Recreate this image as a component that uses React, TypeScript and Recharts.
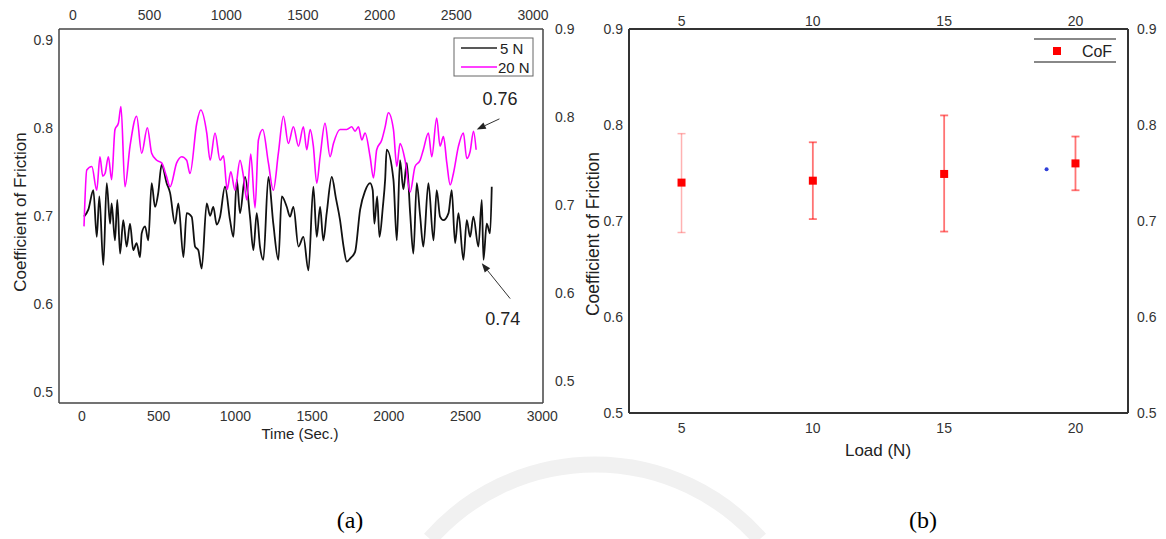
import React from "react";
import {
  LineChart,
  Line,
  XAxis,
  YAxis,
  ScatterChart,
  Scatter,
  ErrorBar,
  ReferenceLine,
  ReferenceDot,
} from "recharts";

// (a) coefficient of friction vs time
const time5N = [
  13, 41, 74, 96, 113, 139, 161, 183, 193, 215, 230, 248, 269, 291, 313, 334, 356, 378, 389, 411,
  432, 454, 476, 497, 519, 552, 574, 606, 628, 661, 682, 715, 737, 758, 780, 813, 835, 856, 878, 900,
  932, 965, 987, 1009, 1030, 1063, 1095, 1117, 1139, 1160, 1182, 1215, 1247, 1280, 1302, 1335, 1356, 1378, 1411, 1443,
  1476, 1508, 1530, 1552, 1573, 1595, 1628, 1655, 1682, 1705, 1726, 1750, 1780, 1813, 1845, 1878, 1895, 1906, 1924, 1939,
  1961, 1976, 1986, 2030, 2052, 2073, 2095, 2117, 2139, 2160, 2182, 2204, 2225, 2258, 2291, 2312, 2334, 2356, 2389, 2410,
  2432, 2454, 2486, 2508, 2530, 2551, 2584, 2606, 2617, 2638, 2660, 2671,
];
const cof5N = [
  0.699, 0.707, 0.729, 0.676, 0.722, 0.644, 0.737, 0.691, 0.714, 0.672, 0.718, 0.657, 0.695, 0.665, 0.691, 0.661, 0.669, 0.653, 0.68, 0.688,
  0.672, 0.737, 0.71, 0.726, 0.758, 0.737, 0.726, 0.691, 0.714, 0.653, 0.703, 0.699, 0.665, 0.661, 0.64, 0.714, 0.7, 0.71, 0.69, 0.699,
  0.733, 0.695, 0.676, 0.741, 0.703, 0.744, 0.699, 0.661, 0.703, 0.665, 0.65, 0.744, 0.691, 0.65, 0.722, 0.71, 0.699, 0.71, 0.665, 0.676,
  0.638, 0.733, 0.676, 0.71, 0.672, 0.703, 0.744, 0.72, 0.695, 0.665, 0.648, 0.652, 0.659, 0.707, 0.728, 0.737, 0.729, 0.691, 0.722, 0.676,
  0.71, 0.741, 0.775, 0.741, 0.672, 0.763, 0.73, 0.76, 0.703, 0.657, 0.737, 0.7, 0.665, 0.737, 0.672, 0.729, 0.699, 0.695, 0.703, 0.729,
  0.669, 0.703, 0.65, 0.695, 0.676, 0.699, 0.665, 0.718, 0.65, 0.691, 0.68, 0.733,
];
const time20N = [
  13, 31, 64, 96, 117, 135, 150, 172, 193, 215, 237, 254, 280, 313, 356, 389, 426, 454, 487, 519,
  550, 574, 617, 650, 682, 704, 748, 774, 813, 835, 867, 900, 922, 946, 970, 997, 1030, 1052, 1074, 1100,
  1128, 1150, 1178, 1215, 1247, 1280, 1313, 1345, 1378, 1411, 1443, 1465, 1487, 1508, 1530, 1552, 1584, 1617, 1639, 1682,
  1726, 1758, 1780, 1802, 1824, 1845, 1878, 1900, 1921, 1954, 1975, 1997, 2030, 2052, 2073, 2106, 2139, 2171, 2204, 2225,
  2258, 2280, 2312, 2334, 2356, 2378, 2400, 2421, 2454, 2486, 2508, 2530, 2552, 2569,
];
const cof20N = [
  0.688, 0.752, 0.756, 0.729, 0.767, 0.745, 0.748, 0.767, 0.741, 0.798, 0.805, 0.824, 0.733, 0.779, 0.813, 0.771, 0.8, 0.771, 0.763, 0.76,
  0.745, 0.733, 0.76, 0.767, 0.763, 0.748, 0.805, 0.82, 0.794, 0.763, 0.794, 0.763, 0.768, 0.73, 0.75, 0.729, 0.763, 0.745, 0.718, 0.77,
  0.709, 0.786, 0.798, 0.76, 0.729, 0.771, 0.813, 0.782, 0.801, 0.779, 0.801, 0.775, 0.798, 0.779, 0.737, 0.767, 0.805, 0.767, 0.782, 0.798,
  0.798, 0.801, 0.796, 0.801, 0.786, 0.794, 0.767, 0.743, 0.775, 0.786, 0.8, 0.817, 0.798, 0.756, 0.782, 0.763, 0.727, 0.756, 0.763, 0.775,
  0.794, 0.767, 0.811, 0.779, 0.79, 0.76, 0.735, 0.748, 0.779, 0.794, 0.765, 0.773, 0.796, 0.775,
];
const timeTicks = [0, 500, 1000, 1500, 2000, 2500, 3000];
const cofTicks = [0.5, 0.6, 0.7, 0.8, 0.9];

// (b) mean coefficient of friction vs load
const loads = [5, 10, 15, 20];
const meanCof = [0.74, 0.742, 0.749, 0.76];
const lowCof = [0.688, 0.702, 0.689, 0.732];
const highCof = [0.791, 0.782, 0.81, 0.788];
const loadTicks = [5, 10, 15, 20];
const strayLoad = [18.9];
const strayCof = [0.754];

const font = "'Liberation Sans', Arial, sans-serif";
const tickStyle = { fill: "#333", fontSize: 14, fontFamily: font };
const frameA = { stroke: "#444", strokeWidth: 1.5 };
const frameB = { stroke: "#333", strokeWidth: 2 };

const line5N = time5N.map((t, i) => ({ t, v: cof5N[i] }));
const line20N = time20N.map((t, i) => ({ t, v: cof20N[i] }));
const points = loads.map((load, i) => ({
  load,
  cof: meanCof[i],
  err: [meanCof[i] - lowCof[i], highCof[i] - meanCof[i]],
}));
const stray = strayLoad.map((load, i) => ({ load, cof: strayCof[i] }));

const fmt1 = (v: number) => v.toFixed(1);

function Arrow(props: any) {
  const { x1, y1, x2, y2 } = props;
  const a = Math.atan2(y2 - y1, x2 - x1);
  const L = 9;
  const W = 3.5;
  const bx = x2 - L * Math.cos(a);
  const by = y2 - L * Math.sin(a);
  const px = -Math.sin(a) * W;
  const py = Math.cos(a) * W;
  return (
    <g>
      <line x1={x1} y1={y1} x2={bx} y2={by} stroke="#333" strokeWidth={1} />
      <polygon points={`${x2},${y2} ${bx + px},${by + py} ${bx - px},${by - py}`} fill="#222" />
    </g>
  );
}

const noteText = (label: string) => (p: any) => (
  <text x={p.cx} y={p.cy} textAnchor="middle" dominantBaseline="central" fontSize={18} fontFamily={font} fill="#222">
    {label}
  </text>
);

function TimePanel() {
  return (
    <LineChart width={600} height={460} margin={{ top: 0, right: 0, bottom: 0, left: 0 }}>
      <XAxis xAxisId="bottom" type="number" dataKey="t" domain={[-150, 3005]} ticks={timeTicks} allowDataOverflow
        orientation="bottom" height={57} tickLine={false} axisLine={frameA} tick={tickStyle} tickSize={6} tickMargin={2} />
      <XAxis xAxisId="top" type="number" dataKey="t" domain={[-90, 3065]} ticks={timeTicks} allowDataOverflow
        orientation="top" height={29} tickLine={false} axisLine={frameA} tick={tickStyle} tickSize={6} tickMargin={3} />
      <YAxis yAxisId="left" type="number" domain={[0.4875, 0.912]} ticks={cofTicks} allowDataOverflow
        width={59} tickLine={false} axisLine={frameA} tick={tickStyle} tickSize={4} tickMargin={2} tickFormatter={fmt1} />
      <YAxis yAxisId="right" orientation="right" type="number" domain={[0.475, 0.9]} ticks={cofTicks} allowDataOverflow
        width={57} tickLine={false} axisLine={frameA} tick={tickStyle} tickSize={6} tickMargin={6} tickFormatter={fmt1} />
      <Line xAxisId="top" yAxisId="right" data={[{ t: 0, v: 0.5 }]} dataKey="v" stroke="none" dot={false}
        isAnimationActive={false} legendType="none" />
      <Line xAxisId="bottom" yAxisId="left" data={line5N} dataKey="v" name="5 N" type="monotone"
        stroke="#111" strokeWidth={1.8} dot={false} isAnimationActive={false} />
      <Line xAxisId="bottom" yAxisId="left" data={line20N} dataKey="v" name="20 N" type="monotone"
        stroke="#ff00ff" strokeWidth={1.6} dot={false} isAnimationActive={false} />
      <ReferenceLine xAxisId="bottom" yAxisId="left" segment={[{ x: 2721, y: 0.81 }, { x: 2573, y: 0.798 }]} shape={Arrow} />
      <ReferenceLine xAxisId="bottom" yAxisId="left" segment={[{ x: 2791, y: 0.606 }, { x: 2606, y: 0.646 }]} shape={Arrow} />
      <ReferenceDot xAxisId="bottom" yAxisId="left" x={2725} y={0.832} r={0} shape={noteText("0.76")} />
      <ReferenceDot xAxisId="bottom" yAxisId="left" x={2743} y={0.583} r={0} shape={noteText("0.74")} />
    </LineChart>
  );
}

function LoadPanel() {
  return (
    <ScatterChart width={586} height={470} margin={{ top: 0, right: 0, bottom: 0, left: 0 }}>
      <XAxis xAxisId="bottom" type="number" dataKey="load" domain={[3, 22]} ticks={loadTicks} allowDataOverflow
        orientation="bottom" height={57} tickLine={false} axisLine={frameB} tick={tickStyle} tickSize={6} tickMargin={4} />
      <XAxis xAxisId="top" type="number" dataKey="load" domain={[3, 22]} ticks={loadTicks} allowDataOverflow
        orientation="top" height={29} tickLine={false} axisLine={frameB} tick={tickStyle} tickSize={0} tickMargin={3} />
      <YAxis yAxisId="left" type="number" dataKey="cof" domain={[0.5, 0.9]} ticks={cofTicks} allowDataOverflow
        width={49} tickLine={false} axisLine={frameB} tick={tickStyle} tickSize={4} tickMargin={2} tickFormatter={fmt1} />
      <YAxis yAxisId="right" orientation="right" type="number" dataKey="cof" domain={[0.5, 0.9]} ticks={cofTicks}
        allowDataOverflow width={38} tickLine={false} axisLine={frameB} tick={tickStyle} tickSize={4} tickMargin={5}
        tickFormatter={fmt1} />
      <Scatter xAxisId="top" yAxisId="right" data={[{ load: 5, cof: 0.5 }]} shape={() => <g />}
        isAnimationActive={false} legendType="none" />
      <Scatter xAxisId="bottom" yAxisId="left" data={points.slice(0, 1)} shape="square" fill="#ff0000"
        isAnimationActive={false}>
        <ErrorBar dataKey="err" direction="y" width={4} stroke="rgba(255,0,0,0.3)" strokeWidth={1.5} />
      </Scatter>
      <Scatter xAxisId="bottom" yAxisId="left" data={points.slice(1)} shape="square" fill="#ff0000"
        isAnimationActive={false}>
        <ErrorBar dataKey="err" direction="y" width={4} stroke="rgba(255,0,0,0.55)" strokeWidth={1.8} />
      </Scatter>
      <Scatter xAxisId="bottom" yAxisId="left" data={stray} isAnimationActive={false}
        shape={(p: any) => <circle cx={p.cx} cy={p.cy} r={2} fill="#3040d8" />} />
    </ScatterChart>
  );
}

export default function App() {
  return (
    <div style={{ position: "absolute", left: 0, top: 0, width: 1166, height: 539, background: "#fff", overflow: "hidden" }}>
      <svg width={1166} height={539} style={{ position: "absolute", left: 0, top: 0 }}>
        {/* faint watermark */}
        <path d="M 430 539 A 220 220 0 0 1 760 539" fill="none" stroke="#f1f1f1" strokeWidth={16} />
      </svg>
      <div style={{ position: "absolute", left: 0, top: 0 }}>
        <TimePanel />
      </div>
      <div style={{ position: "absolute", left: 580, top: 0 }}>
        <LoadPanel />
      </div>
      <svg width={1166} height={539} style={{ position: "absolute", left: 0, top: 0, pointerEvents: "none" }}>
        {/* legend (a) */}
        <rect x={454} y={38} width={79} height={38} fill="#fff" stroke="#666" strokeWidth={1} />
        <line x1={461} y1={48} x2={497} y2={48} stroke="#222" strokeWidth={1.5} />
        <text x={500} y={48} dominantBaseline="central" fontSize={15} fontFamily={font} fill="#222">5 N</text>
        <line x1={461} y1={67} x2={497} y2={67} stroke="#ff00ff" strokeWidth={1.5} />
        <text x={498} y={67} dominantBaseline="central" fontSize={15} fontFamily={font} fill="#222">20 N</text>
        {/* legend (b) */}
        <rect x={1034} y={39} width={82} height={23} fill="#fff" />
        <line x1={1034} y1={39} x2={1116} y2={39} stroke="#888" strokeWidth={2} />
        <line x1={1034} y1={62} x2={1116} y2={62} stroke="#888" strokeWidth={2} />
        <rect x={1053} y={47} width={8} height={8} fill="#ff0000" />
        <text x={1097} y={51} textAnchor="middle" dominantBaseline="central" fontSize={16} fontFamily={font} fill="#222">CoF</text>
        {/* axis titles */}
        <text x={20} y={212} transform="rotate(-90 20 212)" textAnchor="middle" dominantBaseline="central"
          fontSize={17} fontFamily={font} fill="#222">Coefficient of Friction</text>
        <text x={300} y={433} textAnchor="middle" dominantBaseline="central" fontSize={15} fontFamily={font} fill="#222">Time (Sec.)</text>
        <text x={593} y={234} transform="rotate(-90 593 234)" textAnchor="middle" dominantBaseline="central"
          fontSize={17.5} fontFamily={font} fill="#222">Coefficient of Friction</text>
        <text x={878} y={450} textAnchor="middle" dominantBaseline="central" fontSize={17} fontFamily={font} fill="#222">Load (N)</text>
        {/* captions */}
        <text x={350} y={520} textAnchor="middle" dominantBaseline="central" fontSize={24}
          fontFamily="'Liberation Serif', 'Times New Roman', serif" fill="#000">(a)</text>
        <text x={923} y={520} textAnchor="middle" dominantBaseline="central" fontSize={24}
          fontFamily="'Liberation Serif', 'Times New Roman', serif" fill="#000">(b)</text>
      </svg>
    </div>
  );
}
